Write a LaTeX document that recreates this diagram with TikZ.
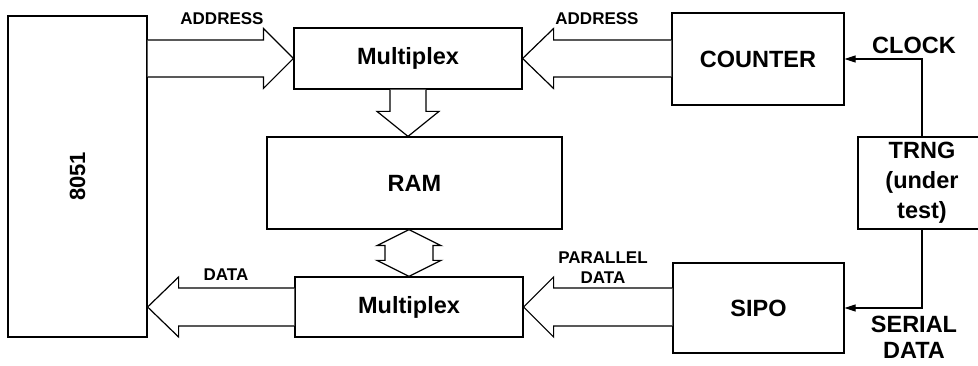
\documentclass[tikz,border=0pt]{standalone}
\usepackage{fontspec}
\setmainfont{Liberation Sans}
\usetikzlibrary{calc,arrows.meta}
\begin{document}
\begin{tikzpicture}[x=1pt,y=-1pt,
  box/.style={draw,line width=1.2pt,inner sep=0pt,align=center,
    font=\bfseries\fontsize{23.5}{30}\selectfont},
  bigtxt/.style={inner sep=0pt,align=center,font=\bfseries\fontsize{23.5}{26}\selectfont},
  smalltxt/.style={inner sep=0pt,align=center,font=\bfseries\fontsize{17}{20}\selectfont},
  bigarr/.style={draw,line width=1.2pt,fill=white,line join=miter},
  sig/.style={draw,line width=1.1pt,-{Triangle[length=11pt,width=7pt]}}]
\path[use as bounding box] (0,0) rectangle (978,366);
\clip (0,0) rectangle (978,366);
\fill[white] (0,0) rectangle (978,366);

% blocks
\node[box,minimum width=139pt,minimum height=321pt] (cpu) at (77.5,176.5) {};
\node[inner sep=0pt,font=\bfseries\fontsize{22}{26}\selectfont,rotate=90] (cpulbl) at (cpu.center) {8051};
\node[box,minimum width=228pt,minimum height=61pt] (mux1) at (408,58.5) {Multiplex};
\node[box,minimum width=172pt,minimum height=92pt] (cnt) at (758,59) {COUNTER};
\node[box,minimum width=295pt,minimum height=92pt] (ram) at (414.5,183) {RAM};
\node[box,minimum width=228pt,minimum height=60pt] (mux2) at (409,307) {Multiplex};
\node[box,minimum width=171pt,minimum height=90pt] (sipo) at (758.5,308) {SIPO};
\node[box,minimum width=128pt,minimum height=92pt] (trng) at (922,183) {TRNG\\(under\\test)};

% big arrows
% 8051 -> Multiplex (address)
\draw[bigarr] let \p1=(cpu.east),\p2=(mux1.west) in
  (\x1,\y2+18.5) -- (\x2-30,\y2+18.5) -- (\x2-30,\y2+30) -- (\x2,\y2)
  -- (\x2-30,\y2-30) -- (\x2-30,\y2-18.5) -- (\x1,\y2-18.5);
% COUNTER -> Multiplex (address)
\draw[bigarr] let \p1=(cnt.west),\p2=(mux1.east) in
  (\x1,\y2+18.5) -- (\x2+31,\y2+18.5) -- (\x2+31,\y2+30) -- (\x2,\y2)
  -- (\x2+31,\y2-30) -- (\x2+31,\y2-18.5) -- (\x1,\y2-18.5);
% Multiplex -> RAM
\draw[bigarr] let \p1=(mux1.south),\p2=(ram.north) in
  (\x1-18,\y1) -- (\x1-18,\y2+25) -- (\x1-31,\y2+25) -- (\x1,\y2)
  -- (\x1+31,\y2+25) -- (\x1+18,\y2+25) -- (\x1+18,\y1);
% RAM <-> Multiplex
\draw[bigarr] let \p1=(ram.south),\p2=(mux2.north) in
  (\x2,\y1) -- (\x2+32,\y1-16) -- (\x2+24,\y1-16) -- (\x2+24,\y2+16)
  -- (\x2+32,\y2+16) -- (\x2,\y2) -- (\x2-32,\y2+16) -- (\x2-24,\y2+16)
  -- (\x2-24,\y1-16) -- (\x2-32,\y1-16) -- cycle;
% Multiplex -> 8051 (data)
\draw[bigarr] let \p1=(mux2.west),\p2=(cpu.east) in
  (\x1,\y1+19) -- (\x2+31,\y1+19) -- (\x2+31,\y1+30) -- (\x2,\y1)
  -- (\x2+31,\y1-30) -- (\x2+31,\y1-19) -- (\x1,\y1-19);
% SIPO -> Multiplex (parallel data)
\draw[bigarr] let \p1=(sipo.west),\p2=(mux2.east) in
  (\x1,\y2+19) -- (\x2+30,\y2+19) -- (\x2+30,\y2+30) -- (\x2,\y2)
  -- (\x2+30,\y2-30) -- (\x2+30,\y2-19) -- (\x1,\y2-19);

% thin signals
\draw[sig] (trng.north) |- (cnt.east);
\draw[sig] (trng.south) |- (sipo.east);

% labels
\node[smalltxt] (addrL) at (222,19) {ADDRESS};
\node[smalltxt] (addrR) at (597,19) {ADDRESS};
\node[smalltxt] (dataL) at (226,275) {DATA};
\node[smalltxt] (pdata) at (603,268) {PARALLEL\\DATA};
\node[bigtxt] (clk) at (914,45) {CLOCK};
\node[bigtxt] (sdata) at (914,337) {SERIAL\\DATA};
\end{tikzpicture}
\end{document}
